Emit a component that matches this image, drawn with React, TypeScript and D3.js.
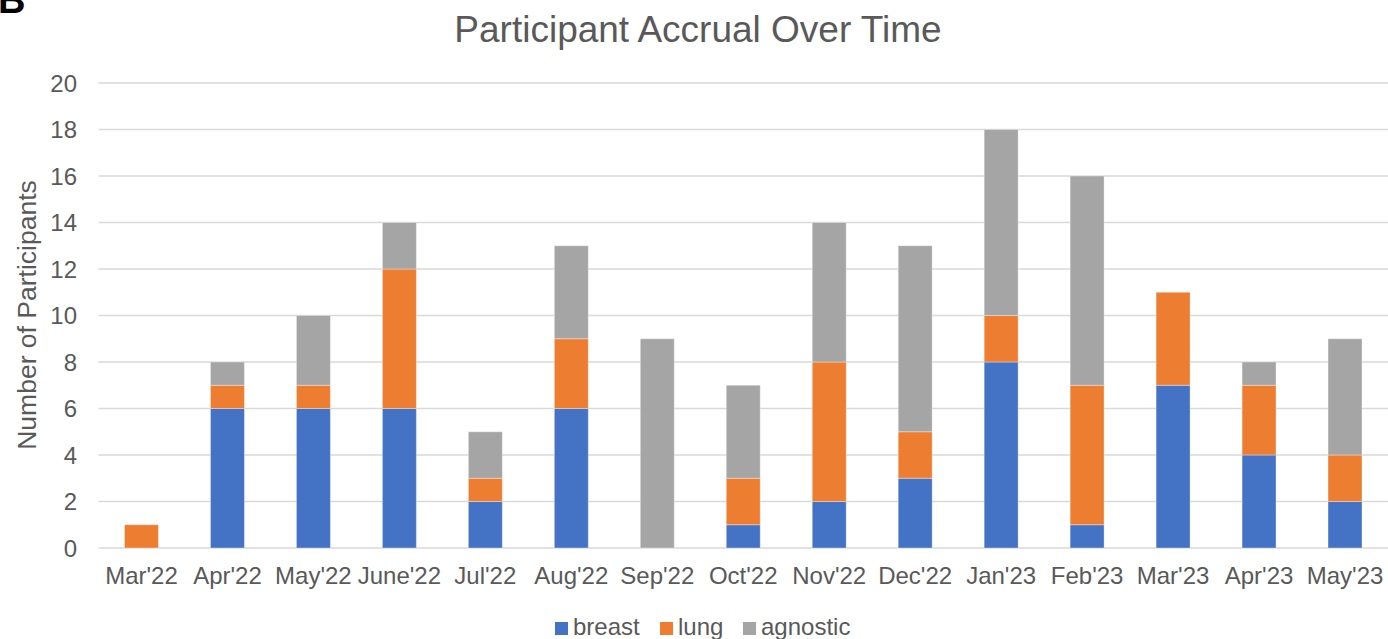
import React from "react";
import * as d3 from "d3";

const categories = ["Mar'22", "Apr'22", "May'22", "June'22", "Jul'22", "Aug'22", "Sep'22", "Oct'22", "Nov'22", "Dec'22", "Jan'23", "Feb'23", "Mar'23", "Apr'23", "May'23"];
const breast = [0, 6, 6, 6, 2, 6, 0, 1, 2, 3, 8, 1, 7, 4, 2];
const lung = [1, 1, 1, 6, 1, 3, 0, 2, 6, 2, 2, 6, 4, 3, 2];
const agnostic = [0, 1, 3, 2, 2, 4, 9, 4, 6, 8, 8, 9, 0, 1, 5];
const seriesNames = ["breast", "lung", "agnostic"];
const colors = ["#4472C4", "#ED7D31", "#A5A5A5"];
const yTicks = [0, 2, 4, 6, 8, 10, 12, 14, 16, 18, 20];

export default function App() {
  const W = 1388, H = 639;
  const x = d3.scaleBand<string>().domain(categories).range([98.5, 1388]).paddingInner(0.605).paddingOuter(0.3025);
  const y = d3.scaleLinear().domain([0, 20]).range([548, 83]);
  const rows = categories.map((c, i) => ({ cat: c, breast: breast[i], lung: lung[i], agnostic: agnostic[i] }));
  const stacked = d3.stack<any>().keys(seriesNames)(rows);
  const font = "'Liberation Sans', Arial, sans-serif";
  const textColor = "#595959";
  const legendItems = [
    { name: "breast", x: 555 },
    { name: "lung", x: 660 },
    { name: "agnostic", x: 743 },
  ];
  return (
    <svg width={W} height={H} style={{ position: "absolute", left: 0, top: 0 }} fontFamily={font}>
      <rect width={W} height={H} fill="#fff" />
      <text x={-2} y={13} fontSize={38} fontWeight="bold" fill="#000">B</text>
      <text x={698} y={42} fontSize={37} textAnchor="middle" fill={textColor}>Participant Accrual Over Time</text>
      {yTicks.map((t) => (
        <g key={t}>
          <line x1={98.5} x2={1388} y1={y(t)} y2={y(t)} stroke="#d9d9d9" strokeWidth={1.5} />
          <text x={77} y={y(t) + 8.5} fontSize={24} textAnchor="end" fill={textColor}>{t}</text>
        </g>
      ))}
      {stacked.map((s, si) => (
        <g key={s.key} fill={colors[si]}>
          {s.map((d, i) => (
            d[1] - d[0] > 0 ? (
              <rect key={i} x={x(categories[i])} width={x.bandwidth()} y={y(d[1])} height={y(d[0]) - y(d[1])} stroke="#fff" strokeOpacity={0.35} strokeWidth={1} />
            ) : null
          ))}
        </g>
      ))}
      {categories.map((c) => (
        <text key={c} x={(x(c) as number) + x.bandwidth() / 2} y={584} fontSize={24} textAnchor="middle" fill={textColor}>{c}</text>
      ))}
      <text transform={`translate(36,315) rotate(-90)`} fontSize={26.5} textAnchor="middle" fill={textColor}>Number of Participants</text>
      {legendItems.map((l, i) => (
        <g key={l.name}>
          <rect x={l.x} y={622} width={13} height={13} fill={colors[i]} />
          <text x={l.x + 18} y={635} fontSize={24} fill={textColor}>{l.name}</text>
        </g>
      ))}
    </svg>
  );
}
